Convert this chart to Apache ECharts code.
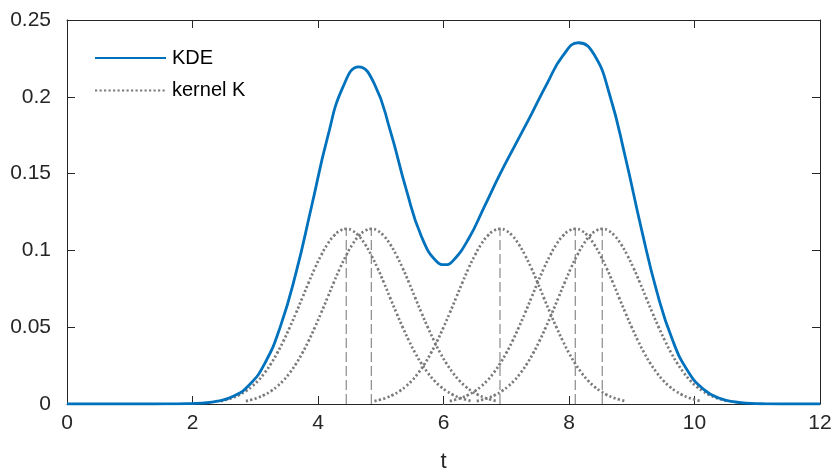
<!DOCTYPE html>
<html>
<head>
<meta charset="utf-8">
<script src="https://cdn.jsdelivr.net/npm/echarts@6/dist/echarts.min.js"></script>
<style>
html,body{margin:0;padding:0;background:#fff;}
#chart{width:837px;height:473px;}
</style>
</head>
<body>
<div id="chart"></div>
<script>
// ---- data ----
const kdeT = [0, 0.4, 0.9, 1.4, 1.65, 1.9, 2.15, 2.4, 2.65, 2.9, 3.15, 3.4, 3.65, 3.9, 4.15, 4.4, 4.65, 4.9,
  5.15, 5.4, 5.65, 5.9, 6.025, 6.15, 6.4, 6.65, 6.9, 7.15, 7.4, 7.65, 7.9, 8.15, 8.4, 8.65, 8.9,
  9.15, 9.4, 9.65, 9.9, 10.15, 10.4, 10.65, 10.9, 11.15, 11.4, 11.9, 12];
const kdeValues = [0, 0, 0, 0, 0.0001, 0.0002, 0.0006, 0.0018, 0.0050, 0.0122, 0.0263, 0.0504, 0.0855, 0.1291, 0.1732, 0.2066, 0.2195, 0.2083,
  0.1781, 0.1406, 0.1089, 0.0924, 0.0907, 0.0932, 0.1076, 0.1284, 0.1496, 0.1692, 0.1886, 0.2086, 0.2266, 0.2352, 0.2275, 0.2010, 0.1603,
  0.1147, 0.0731, 0.0416, 0.0210, 0.0094, 0.0037, 0.0013, 0.0004, 0.0001, 0, 0, 0];

const kernelCenters = [4.45, 4.85, 6.9, 8.1, 8.53];
const kernelOffsets = [-2, -1.9, -1.8, -1.7, -1.6, -1.5, -1.4, -1.3, -1.2, -1.1, -1, -0.9, -0.8, -0.7, -0.6, -0.5, -0.4, -0.3, -0.2, -0.1,
  0, 0.1, 0.2, 0.3, 0.4, 0.5, 0.6, 0.7, 0.8, 0.9, 1, 1.1, 1.2, 1.3, 1.4, 1.5, 1.6, 1.7, 1.8, 1.9, 2];
const kernelShape = [0.0019, 0.0029, 0.0042, 0.0060, 0.0084, 0.0115, 0.0154, 0.0203, 0.0262, 0.0332, 0.0411, 0.0499, 0.0593, 0.0691, 0.0790, 0.0884, 0.0968, 0.1040, 0.1094, 0.1128,
  0.1140, 0.1128, 0.1094, 0.1040, 0.0968, 0.0884, 0.0790, 0.0691, 0.0593, 0.0499, 0.0411, 0.0332, 0.0262, 0.0203, 0.0154, 0.0115, 0.0084, 0.0060, 0.0042, 0.0029, 0.0019];

const xTicks = [0, 2, 4, 6, 8, 10, 12];
const yTicks = [0, 0.05, 0.1, 0.15, 0.2, 0.25];

// ---- chart ----
const FONT = 'Liberation Sans';
const AX = '#262626';
const BLUE = '#0072BD';
const GRAY = '#7a7a7a';

const chart = echarts.init(document.getElementById('chart'), null, {renderer: 'canvas'});

const series = [];
kernelCenters.forEach(function (c) {
  series.push({
    name: 'kernel K', type: 'line', xAxisIndex: 0, yAxisIndex: 0,
    data: kernelOffsets.map(function (o, i) { return [c + o, kernelShape[i]]; }),
    smooth: 0.5, symbol: 'none', showSymbol: false, z: 2,
    lineStyle: {color: GRAY, width: 2.7, type: [2.2, 2.3], cap: 'butt'},
    itemStyle: {color: GRAY}
  });
  const peak = kernelShape[kernelOffsets.indexOf(0)];
  series.push({
    name: 'center', type: 'line', xAxisIndex: 0, yAxisIndex: 0,
    data: [[c, 0], [c, peak]], symbol: 'none', z: 1,
    lineStyle: {color: '#8a8a8a', width: 1.2, type: [10, 4]}
  });
});
series.push({
  name: 'KDE', type: 'line', xAxisIndex: 0, yAxisIndex: 0,
  data: kdeT.map(function (t, i) { return [t, kdeValues[i]]; }),
  smooth: 0.5, symbol: 'none', showSymbol: false, z: 5,
  lineStyle: {color: BLUE, width: 2.8},
  itemStyle: {color: BLUE}
});

const option = {
  backgroundColor: '#fff',
  animation: false,
  textStyle: {fontFamily: FONT},
  grid: {left: 67, right: 17, top: 20, bottom: 69, containLabel: false, outerBoundsMode: 'none'},
  legend: {
    data: ['KDE', 'kernel K'],
    orient: 'vertical', left: 94, top: 48, padding: 0,
    itemWidth: 71, itemHeight: 20, itemGap: 12.5,
    itemStyle: {opacity: 0, borderWidth: 0},
    textStyle: {fontFamily: FONT, fontSize: 20, color: '#000', padding: [0, 0, 0, 1]},
    selectedMode: false
  },
  xAxis: [{
    type: 'value', min: xTicks[0], max: xTicks[xTicks.length - 1], interval: 2, position: 'bottom',
    name: 't', nameLocation: 'middle', nameGap: 47,
    nameTextStyle: {fontFamily: FONT, fontSize: 22, color: AX},
    axisLine: {show: true, lineStyle: {color: AX, width: 1}},
    axisTick: {show: true, inside: true, length: 8, lineStyle: {color: AX}},
    axisLabel: {fontFamily: FONT, fontSize: 21, color: AX, margin: 9},
    splitLine: {show: false}
  }, {
    type: 'value', min: xTicks[0], max: xTicks[xTicks.length - 1], interval: 2, position: 'top',
    axisLine: {show: true, onZero: false, lineStyle: {color: AX, width: 1}},
    axisTick: {show: true, inside: true, length: 8, lineStyle: {color: AX}},
    axisLabel: {show: false}, splitLine: {show: false}
  }],
  yAxis: [{
    type: 'value', min: yTicks[0], max: yTicks[yTicks.length - 1], interval: 0.05, position: 'left',
    axisLine: {show: true, lineStyle: {color: AX, width: 1}},
    axisTick: {show: true, inside: true, length: 8, lineStyle: {color: AX}},
    axisLabel: {fontFamily: FONT, fontSize: 21, color: AX, margin: 16},
    splitLine: {show: false}
  }, {
    type: 'value', min: yTicks[0], max: yTicks[yTicks.length - 1], interval: 0.05, position: 'right',
    axisLine: {show: true, onZero: false, lineStyle: {color: AX, width: 1}},
    axisTick: {show: true, inside: true, length: 8, lineStyle: {color: AX}},
    axisLabel: {show: false}, splitLine: {show: false}
  }],
  series: series
};
chart.setOption(option);
</script>
</body>
</html>
